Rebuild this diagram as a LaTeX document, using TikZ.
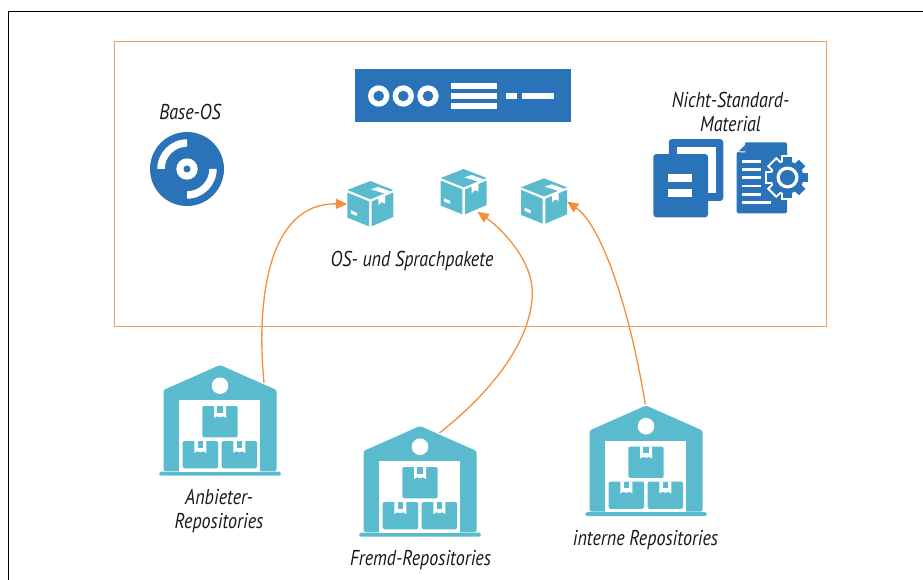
\documentclass[tikz,border=0pt]{standalone}
\usepackage{fontspec}
\usetikzlibrary{arrows.meta,calc}
\setmainfont[ItalicFeatures={FakeStretch=0.84}]{PT Sans}
\definecolor{teal1}{HTML}{5ABBCF}
\definecolor{blue1}{HTML}{2A73B8}
\definecolor{orange1}{HTML}{F48E3A}
\definecolor{orange2}{HTML}{F59F58}
\tikzset{
  x=1pt,y=-1pt,
  label text/.style={font=\itshape\fontsize{21.5}{24}\selectfont,text=black!90,align=center,inner sep=0},
  icon/.style={inner sep=0,outer sep=0,minimum width=#1},
  flow/.style={draw=orange1,line width=1.3pt,-{Triangle[length=11.5pt,width=10pt,fill=orange1]}},
  pics/crate/.style={code={
    \fill[teal1,rounded corners=1.5pt] (-17.7,0) rectangle (17.7,#1);
    \fill[white] (-6,0) -- (6,0) -- (6,12) -- (3,10.3) -- (0,11.3) -- (-3,10.3) -- (-6,12) -- cycle;
    \fill[teal1] (-2.8,0) rectangle (2.8,6.5);
  }},
  pics/warehouse/.style={code={
    \fill[teal1,rounded corners=1.5pt] (0,0) -- (56.5,25) -- (56.5,106) -- (-56.5,106) -- (-56.5,25) -- cycle;
    \fill[teal1,rounded corners=1.8pt] (-61,106.7) rectangle (61,110.7);
    \fill[white] (-41.3,35) rectangle (40.3,106.7);
    \fill[white] (0,20.7) circle (8.3);
    \path (0,41) pic {crate=31.3};
    \path (-19.7,76) pic {crate=27.3};
    \path (19.3,76) pic {crate=27.3};
  }},
  pics/parcel/.style={code={
    \fill[teal1] (0,0) -- (23,9) -- (0,18.3) -- (-23,9) -- cycle;
    \fill[teal1] (-23,11.6) -- (-1.3,20.4) -- (-1.3,45.4) -- (-23,36.6) -- cycle;
    \fill[teal1] (1.3,20.4) -- (23,11.6) -- (23,36) -- (1.3,45.4) -- cycle;
    \fill[white] (0.7,8.3) -- (8,6) -- (19.7,10.3) -- (14.7,12.7) -- cycle;
    \fill[white] (8,15.3) -- (14.7,12.7) -- (14.7,22.7) -- (11.3,21) -- (8,24.3) -- cycle;
    \fill[white] (-19.5,32.5) -- (-13.5,35) -- (-13.5,31.8) -- (-19.5,29.3) -- cycle;
  }},
}
\begin{document}
\begin{tikzpicture}
\useasboundingbox (0,0) rectangle (923,580);
% frame
\draw[black,line width=1.3pt] (8.5,580) -- (8.5,11.5) -- (923,11.5);
\node[draw=orange2,line width=1.5pt,fill=none,inner sep=0,outer sep=0,minimum width=712pt,minimum height=285pt] (stage) at (470.5,184) {};

% server
\node[fill=blue1,inner sep=0,minimum width=215.7pt,minimum height=53pt] (server) at (462.8,95.8) {};
\foreach \cx in {378.7,403.3,428}{
  \fill[white] (\cx,96) circle (10.7);
  \fill[blue1] (\cx,96) circle (5.3);
}
\fill[white] (451.3,83.3) rectangle (496.7,89.3);
\fill[white] (451.3,93.3) rectangle (496.7,99.3);
\fill[white] (451.3,103.3) rectangle (496.7,109.3);
\fill[white] (506,93.3) rectangle (516.7,99.3);
\fill[white] (522.3,93.3) rectangle (554,99.3);

% disc
\node[circle,fill=blue1,inner sep=0,minimum size=74pt] (disc) at (187,169) {};
\fill[white] (187,169) circle (10.7);
\fill[blue1] (187,169) circle (3.5);
\fill[white] (187,139.3) arc[start angle=-90,end angle=-180,radius=29.7] -- ++(7.4,0) arc[start angle=180,end angle=270,radius=22.3] -- cycle;
\fill[white] (187,198.7) arc[start angle=90,end angle=0,radius=29.7] -- ++(-7.4,0) arc[start angle=0,end angle=90,radius=22.3] -- cycle;

% parcels
\node[icon=46pt,minimum height=46pt] (parcelA) at (370.3,204) {};
\path (370.3,181) pic {parcel};
\node[icon=46pt,minimum height=46pt] (parcelB) at (463.7,192) {};
\path (463.7,169) pic {parcel};
\node[icon=46pt,minimum height=46pt] (parcelC) at (544,201.5) {};
\path (544,178.3) pic {parcel};

% documents
\node[icon=54.5pt,minimum height=61.7pt,fill=blue1,rounded corners=3pt] (docback) at (696,170) {};
\fill[white] (676.7,146.7) rectangle (716,193.3);
\node[icon=54.7pt,minimum height=63.3pt,fill=blue1,rounded corners=3pt] (docfront) at (680.7,185.7) {};
\fill[white] (668.3,174.3) rectangle (692.3,182.3);
\fill[white] (668.3,189.3) rectangle (692.3,197.3);

\fill[blue1,rounded corners=1.5pt] (746,142.3) -- (787,142.3) -- (787,213.3) -- (736.7,213.3) -- (736.7,152) [sharp corners] -- cycle;
\fill[white] (745,143) -- (736,152) -- (745.5,152.5) -- cycle;
\fill[blue1] (745.5,144.5) -- (738.7,151.3) -- (745.5,151.3) -- cycle;
\foreach \ly in {161.7,169.3,177.7,186,194.3}{
  \fill[white] (741.7,\ly-1.3) rectangle (760.7,\ly+1.3);
}
\fill[white] (741.7,201) rectangle (770.7,203.6);
% gear
\begin{scope}[shift={(787.5,177.5)}]
  \foreach \a in {0,45,...,315}{
    \fill[white,rotate=\a] (-6.6,-22.5) rectangle (6.6,0);
  }
  \fill[white] (0,0) circle (18);
  \foreach \a in {0,45,...,315}{
    \fill[blue1,rotate=\a] (-4.6,-20.5) rectangle (4.6,0);
  }
  \fill[blue1] (0,0) circle (16);
  \fill[white] (0,0) circle (11);
  \fill[blue1] (0,0) circle (7.6);
\end{scope}

% warehouses
\node[icon=122pt,minimum height=110.7pt] (repoA) at (220,420.3) {};
\path (220,365) pic {warehouse};
\node[icon=122pt,minimum height=110.7pt] (repoB) at (420,481.3) {};
\path (420,426) pic {warehouse};
\node[icon=122pt,minimum height=110.7pt] (repoC) at (646,460.8) {};
\path (646,405.5) pic {warehouse};

% connectors
\draw[flow] ([shift={(44,18)}]repoA.north) .. controls (256,300) and (268,203) .. (parcelA.west);
\draw[flow] ([shift={(19.5,7)}]repoB.north) .. controls (500,385) and (532,335) .. (532.3,293) .. controls (532.5,258) and (498,226) .. ([shift={(13.6,-3.3)}]parcelB.south);
\draw[flow] ([shift={(-0.7,-1)}]repoC.north) .. controls (630,310) and (602,226) .. (parcelC.east);

% labels
\node[label text] (lbase) at (190,112) {Base-OS};
\node[label text] (lnicht) at (730.5,112) {Nicht-Standard-\\Material};
\node[label text] (lpak) at (412,260.5) {OS- und Sprachpakete};
\node[label text] (lanb) at (219,511) {Anbieter-\\Repositories};
\node[label text] (lfremd) at (420.5,560) {Fremd-Repositories};
\node[label text] (lint) at (645.5,540) {interne Repositories};
\end{tikzpicture}
\end{document}
